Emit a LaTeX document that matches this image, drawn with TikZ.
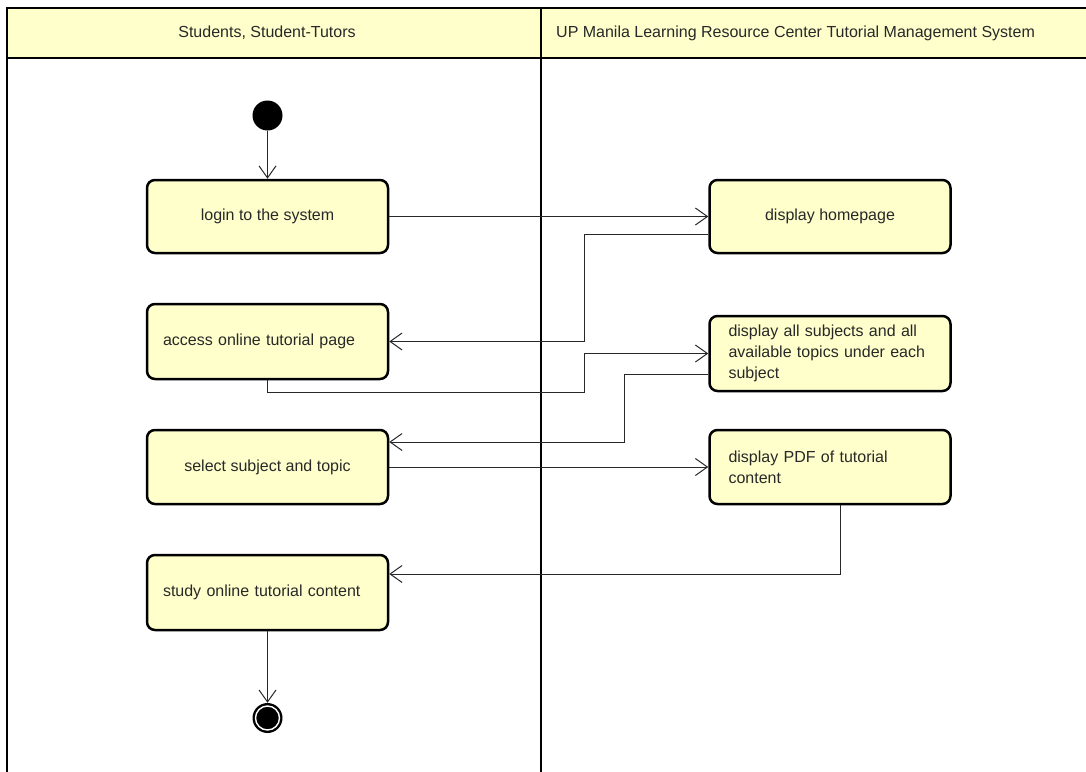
\documentclass[tikz,border=0pt]{standalone}
\usepackage{fontspec}
\setmainfont{Liberation Sans}
\usetikzlibrary{arrows.meta}
\definecolor{nodefill}{RGB}{255,255,204}
\definecolor{inkgray}{RGB}{40,40,40}
\begin{document}
\begin{tikzpicture}[x=1pt,y=-1pt,
  txt/.style={font=\fontsize{16}{21}\selectfont, text=inkgray},
  act/.style={txt, draw=black, line width=2.5pt, rounded corners=8pt, fill=nodefill,
    minimum width=241pt, minimum height=73pt, inner sep=0pt},
  actl/.style={act, text width=209pt, align=left},
  actr/.style={act, text width=203pt, align=left},
  flow/.style={draw=inkgray, line width=1pt, -{Straight Barb[length=12pt,width=17pt,line width=1pt]}},
  frame/.style={draw=black, line width=2.6pt},
  ]
\useasboundingbox (0,0) rectangle (1086,771);
\clip (0,0) rectangle (1086,771);
% swimlane frame
\fill[nodefill] (7,8) rectangle (1100,58);
\draw[frame] (1100,8) -- (7,8) -- (7,790);
\draw[frame] (7,58) -- (1100,58);
\draw[frame] (541,8) -- (541,790);
\node[txt] (lane1) at (267,33) {Students, Student-Tutors};
\node[txt, anchor=west, inner sep=0pt] (lane2) at (556,33) {UP Manila Learning Resource Center Tutorial Management System};
% nodes
\node[circle, fill=black, minimum size=30pt, inner sep=0pt] (init) at (267.5,115.5) {};
\node[act] (login) at (267.5,216.5) {login to the system};
\node[act] (home) at (830,216.5) {display homepage};
\node[actl, minimum height=75pt] (access) at (267.5,341.5) {access online tutorial page};
\node[actr, minimum height=75pt] (subjects) at (830,353.5) {display all subjects and all\\available topics under each\\subject};
\node[act, minimum height=74pt] (select) at (267.5,467) {select subject and topic};
\node[actr, minimum height=74pt] (pdf) at (830,467) {display PDF of tutorial\\content};
\node[actl, minimum height=75pt] (study) at (267.5,592.5) {study online tutorial content};
\node[circle, fill=black, minimum size=30pt, inner sep=0pt] (final) at (267.5,718) {};
\draw[white, line width=1.4pt] (final.center) circle (12pt);
% connectors
\draw[flow] (init) -- (login);
\draw[flow] (login.east) -- (home.west);
\draw[flow] ([yshift=-17.5pt]home.west) -- ++(-124,0) |- (access.east);
\draw[flow] (access.south) -- ++(0,12.5) -| ([xshift=-124pt]subjects.west) -- (subjects.west);
\draw[flow] ([yshift=-20.5pt]subjects.west) -- ++(-84,0) |- ([yshift=25pt]select.east);
\draw[flow] (select.east) -- (pdf.west);
\draw[flow] ([xshift=10pt]pdf.south) |- ([yshift=18.5pt]study.east);
\draw[flow] (study) -- (final);
\end{tikzpicture}
\end{document}
